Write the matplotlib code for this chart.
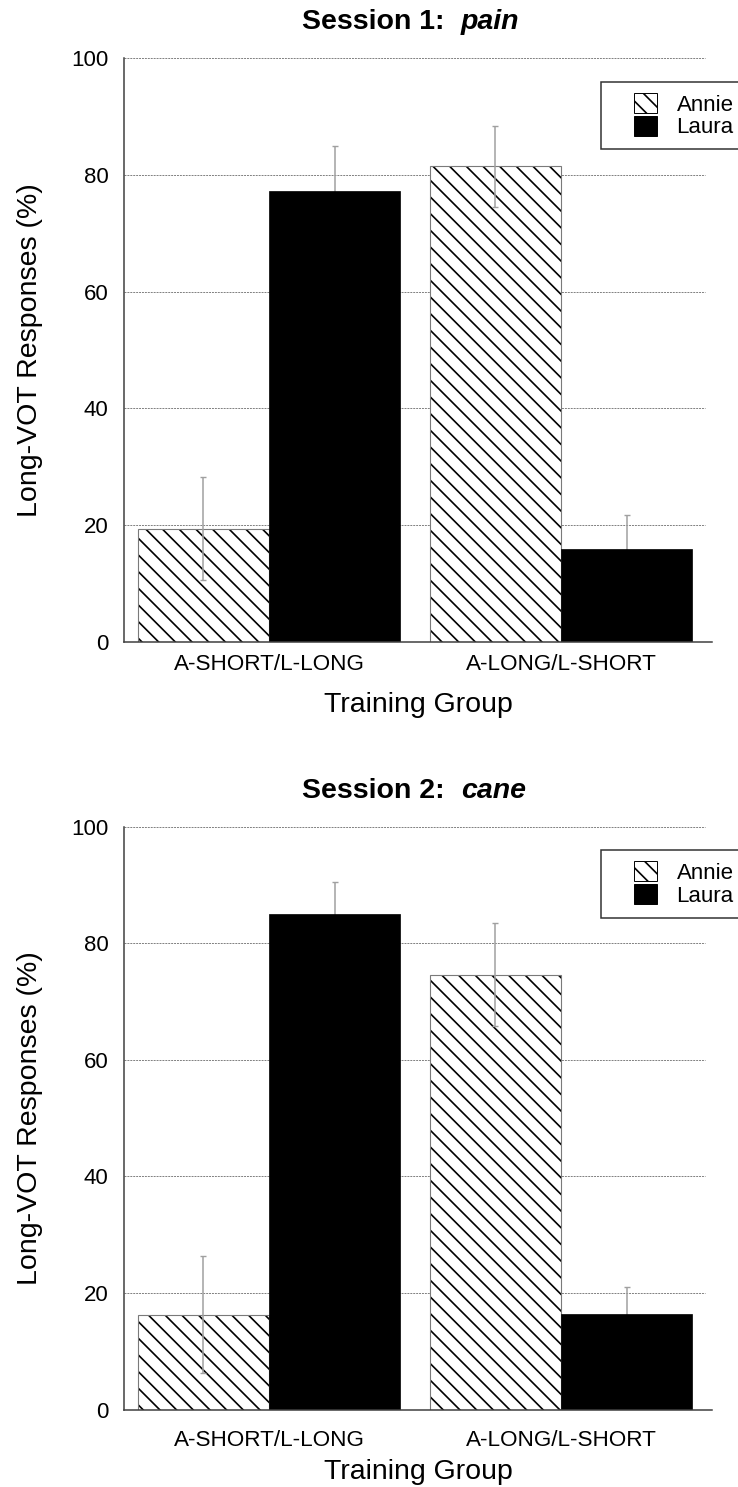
import matplotlib
matplotlib.use("Agg")
import matplotlib.pyplot as plt
import numpy as np
from matplotlib.patches import Rectangle
from matplotlib.legend_handler import HandlerPatch

plt.rcParams['font.family'] = ['Liberation Sans', 'DejaVu Sans']
plt.rcParams['hatch.linewidth'] = 1.2

# ---- data ----
groups = ["A-SHORT/L-LONG", "A-LONG/L-SHORT"]
series_names = ["Annie", "Laura"]
yticks = [0, 20, 40, 60, 80, 100]

s1_annie = [19.4, 81.5]
s1_annie_err = [8.8, 6.9]
s1_laura = [77.2, 15.9]
s1_laura_err = [7.8, 5.8]

s2_annie = [16.3, 74.6]
s2_annie_err = [10.0, 8.8]
s2_laura = [85.0, 16.4]
s2_laura_err = [5.5, 4.6]

titles = [("Session 1:", "pain"), ("Session 2:", "cane")]

W, H = 738, 1487
fig = plt.figure(figsize=(W / 100, H / 100), dpi=100)

def px_axes(left, top, right, bottom):
    return [left / W, 1 - bottom / H, (right - left) / W, (bottom - top) / H]

axes_boxes = [px_axes(124, 58.3, 712, 641.8), px_axes(124, 826.7, 712, 1409.5)]
data = [(s1_annie, s1_annie_err, s1_laura, s1_laura_err),
        (s2_annie, s2_annie_err, s2_laura, s2_laura_err)]
xtick_pads = [9.0, 14.5]
xlabel_pads = [12.0, 6.0]

def square_right(legend, orig_handle, xdescent, ydescent, width, height, fontsize):
    w = fontsize * 1.0
    return Rectangle((-xdescent + width - w, -ydescent), w, height)

HATCH = '\\\\'
bw = 0.45
for i, ax_box in enumerate(axes_boxes):
    ax = fig.add_axes(ax_box)
    annie, annie_err, laura, laura_err = data[i]
    x = np.arange(len(groups))
    # hatched fill (hatch takes the edge colour), then a gray outline on top
    ax.bar(x - bw / 2, annie, width=bw, color='white', edgecolor='black',
           linewidth=0, hatch=HATCH, zorder=1)
    ax.bar(x - bw / 2, annie, width=bw, color='none', edgecolor='#7a7a7a',
           linewidth=0.8, zorder=1.1)
    ax.errorbar(x - bw / 2, annie, yerr=annie_err, fmt='none', ecolor='#a0a0a0',
                elinewidth=1.1, capsize=2.2, capthick=1.0, zorder=2)
    ax.errorbar(x + bw / 2, laura, yerr=laura_err, fmt='none', ecolor='#a0a0a0',
                elinewidth=1.1, capsize=2.2, capthick=1.0, zorder=2)
    ax.bar(x + bw / 2, laura, width=bw, color='black', edgecolor='black',
           linewidth=0.5, zorder=3)

    ax.set_xlim(-0.497, 1.517)
    ax.set_ylim(0, 100)
    ax.set_yticks(yticks)
    ax.set_yticklabels([str(t) for t in yticks])
    for t in yticks[1:]:
        ax.axhline(t, xmin=0, xmax=0.988, color='#808080', linewidth=0.7,
                   linestyle=(0, (2.0, 1.0)), zorder=0.5)
    ax.set_xticks(x)
    ax.set_xticklabels(groups)
    ax.tick_params(axis='y', length=0, pad=11.3, labelsize=16)
    ax.tick_params(axis='x', length=0, pad=xtick_pads[i], labelsize=16.2)
    for s in ['top', 'right']:
        ax.spines[s].set_visible(False)
    for s in ['left', 'bottom']:
        ax.spines[s].set_color('#404040')
        ax.spines[s].set_linewidth(1.1)
        ax.spines[s].set_zorder(4)
    ax.set_ylabel("Long-VOT Responses (%)", fontsize=20.5, labelpad=20.5)
    ax.set_xlabel("Training Group", fontsize=20.5, labelpad=xlabel_pads[i])

    h_annie = Rectangle((0, 0), 1, 1, facecolor='white', edgecolor='black',
                        linewidth=0.7, hatch=HATCH)
    h_laura = Rectangle((0, 0), 1, 1, facecolor='black', edgecolor='black',
                        linewidth=0.7)
    leg = ax.legend([h_annie, h_laura], series_names, loc='upper left',
                    bbox_to_anchor=((601 - 124) / 588, 1 - 23.7 / 583.5),
                    fontsize=16, frameon=True, fancybox=False, shadow=False,
                    borderpad=0.5, labelspacing=0.0, handlelength=2.0,
                    handleheight=1.0, handletextpad=0.9, borderaxespad=0,
                    handler_map={Rectangle: HandlerPatch(patch_func=square_right)})
    leg.get_frame().set_edgecolor('black')
    leg.get_frame().set_linewidth(1.1)
    leg.set_zorder(5)

    left_t, right_t = titles[i]
    ax.annotate(left_t, xy=((445 - 124) / 588, 1), xycoords='axes fraction',
                xytext=(0, 20.9), textcoords='offset points', ha='right',
                va='baseline', fontsize=20.5, fontweight='bold')
    ax.annotate(right_t, xy=((461 - 124) / 588, 1), xycoords='axes fraction',
                xytext=(0, 20.9), textcoords='offset points', ha='left',
                va='baseline', fontsize=20.5, fontweight='bold', fontstyle='italic')

fig.savefig("out.png", dpi=100)
